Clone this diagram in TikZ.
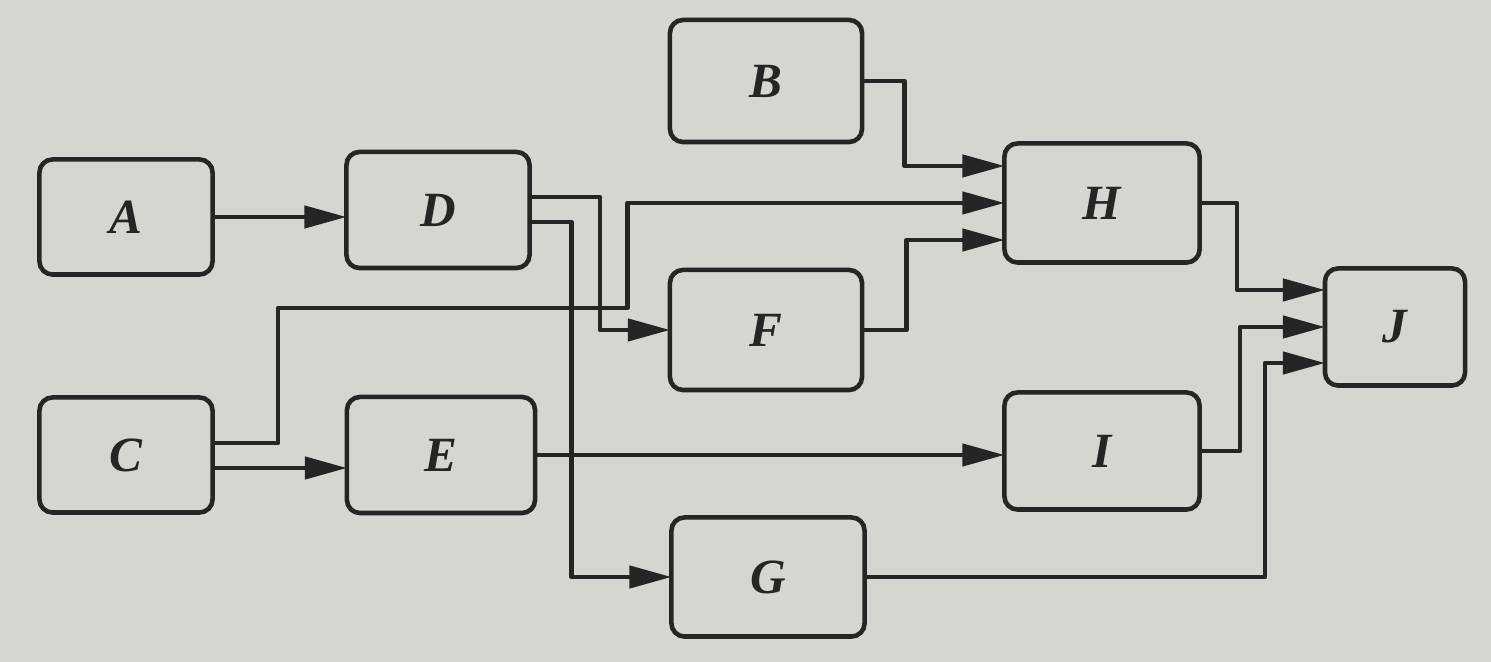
\documentclass[tikz,border=0pt]{standalone}
\usepackage{fontspec}
\setmainfont{Liberation Serif}
\usetikzlibrary{arrows.meta,calc}
\definecolor{paper}{RGB}{214,213,208}
\definecolor{ink}{RGB}{38,36,36}
\begin{document}
\begin{tikzpicture}[x=0.01cm,y=-0.01cm,
  box/.style={draw=ink,line width=1.3pt,rounded corners=0.13cm,inner sep=0pt,outer sep=0pt,
    font=\fontsize{14}{16}\selectfont\bfseries\itshape,text=ink},
  conn/.style={draw=ink,line width=1.25pt,line join=round,-{Triangle[length=0.42cm,width=0.22cm]}}]
\path[fill=paper] (0,0) rectangle (1491,662);
\node[box,minimum width=1.73cm,minimum height=1.15cm] (A) at (126,217) {A};
\node[box,minimum width=1.73cm,minimum height=1.15cm] (C) at (126,455) {C};
\node[box,minimum width=1.83cm,minimum height=1.16cm] (D) at (438,210) {D};
\node[box,minimum width=1.88cm,minimum height=1.16cm] (E) at (441,455) {E};
\node[box,minimum width=1.92cm,minimum height=1.22cm] (B) at (766,81) {B};
\node[box,minimum width=1.92cm,minimum height=1.20cm] (F) at (766,330) {F};
\node[box,minimum width=1.93cm,minimum height=1.19cm] (G) at (768,577) {G};
\node[box,minimum width=1.95cm,minimum height=1.19cm] (H) at (1102,203) {H};
\node[box,minimum width=1.95cm,minimum height=1.17cm] (I) at (1102,451) {I};
\node[box,minimum width=1.40cm,minimum height=1.17cm] (J) at (1395,327) {J};
% A -> D
\draw[conn] (A.east) -- (A.east -| D.west);
% D -> F
\draw[conn] ([yshift=0.13cm]D.east) -| ($(F.west)+(-70,0)$) -- (F.west);
% D -> G
\draw[conn] ([yshift=-0.12cm]D.east) -| ($(G.west)+(-100,0)$) -- (G.west);
% C -> H
\draw[conn] ([yshift=0.12cm]C.east) -| (278,308) -| ($(H.west)+(-377,0)$) -- (H.west);
% C -> E
\draw[conn] ([yshift=-0.13cm]C.east) -- ([yshift=-0.13cm]E.west);
% E -> I
\draw[conn] (E.east) -- (E.east -| I.west);
% B -> H
\draw[conn] (B.east) -| ($([yshift=0.37cm]H.west)+(-100,0)$) -- ([yshift=0.37cm]H.west);
% F -> H
\draw[conn] (F.east) -| ($([yshift=-0.37cm]H.west)+(-98,0)$) -- ([yshift=-0.37cm]H.west);
% H -> J
\draw[conn] (H.east) -| ($([yshift=0.37cm]J.west)+(-88,0)$) -- ([yshift=0.37cm]J.west);
% I -> J
\draw[conn] (I.east) -| ($(J.west)+(-85,0)$) -- (J.west);
% G -> J
\draw[conn] (G.east) -| ($([yshift=-0.36cm]J.west)+(-60,0)$) -- ([yshift=-0.36cm]J.west);
\end{tikzpicture}
\end{document}
